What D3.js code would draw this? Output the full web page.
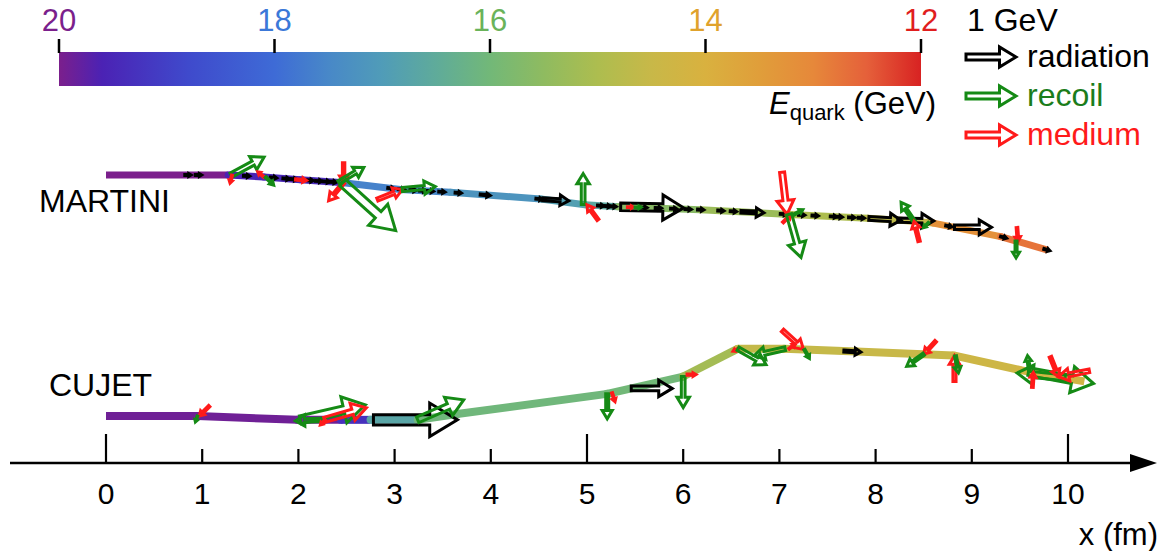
<!DOCTYPE html>
<html><head><meta charset="utf-8">
<script src="https://cdn.jsdelivr.net/npm/d3@7"></script>
<style>body{margin:0;background:#fff}text{font-family:"Liberation Sans",Arial,sans-serif}</style>
</head><body><svg id="c" width="1166" height="551"></svg>
<script>
// ---------- data ----------
const xTicks = [0,1,2,3,4,5,6,7,8,9,10];
const xMajor = [0,5,10];
const cbarTicks = [20,18,16,14,12];
const cbarTickColors = ["#7b1f8c","#3b78d8","#6ab35a","#e0a22c","#e01e1e"];
const cmapE = [20,19.6,18.8,18,17.5,17,16.5,16,15.5,15,14.5,14,13.5,13,12.5,12];
const cmapC = ["#7b1f8c","#4b22b4","#3f4acc","#3e6bd6","#4888c8","#509cb8","#5fab9a","#72b878","#8fbb60","#adbd4f","#c8b848","#d9b13f","#e09e3a","#e6883a","#e5603a","#d82222"];

const martiniX = [0,1.27,1.64,2.02,2.47,3.06,3.58,4.52,4.98,5.32,6.18,7.11,7.92,8.26,8.60,9.30,9.79];
const martiniY = [0,0,-0.02,-0.05,-0.08,-0.15,-0.18,-0.25,-0.31,-0.33,-0.36,-0.41,-0.45,-0.47,-0.50,-0.64,-0.78];
const martiniE = [20,19.6,19.5,19.45,17.6,17.5,17.2,16.9,16.6,15.6,15.3,15.0,14.7,14.6,13.2,12.75];

const cujetX = [0,0.95,1.99,2.44,2.75,3.24,3.65,5.21,6.0,6.57,7.05,7.80,8.81,9.49,10.17];
const cujetY = [0,0,-0.04,-0.04,-0.04,-0.04,0.02,0.23,0.41,0.70,0.70,0.67,0.63,0.48,0.36];
const cujetE = [19.9,19.9,19.9,19.3,16.7,16.05,16.05,16.0,15.15,14.6,14.55,14.5,14.35,14.25];

// arrows: [x (fm), px (GeV), py (GeV), type, ends on path]
const martiniDots = [0.82,0.93,1.43,1.71,1.84,1.92,2.09,2.18,2.26,2.33,2.93,3.04,3.16,3.26,3.34,3.46,3.63,4.47,5.11,5.18,5.24,5.56,5.71,5.87,6.02,6.15,6.36,6.49,7.01,7.2,7.34,7.53,7.59,7.72,7.82,8.73,9.3,9.75];
const martiniDotP = [0.12,0.12,0.12,0.12,0.12,0.12,0.12,0.12,0.12,0.12,0.12,0.12,0.12,0.12,0.12,0.12,0.12,0.12,0.12,0.12,0.12,0.12,0.12,0.12,0.12,0.12,0.12,0.12,0.12,0.12,0.12,0.12,0.12,0.12,0.12,0.12,0.12,0.12];
const martiniArrows = [
 [1.30,0.66,0.36,"c",0],[1.31,-0.04,-0.16,"m",0],[1.64,-0.12,0.1,"m",0],[1.66,0.16,-0.16,"c",0],
 [1.97,0.22,-0.02,"m",0],[2.47,0,-0.4,"m",1],[2.47,-0.3,-0.36,"m",0],[2.42,0.5,0.3,"c",0],
 [2.46,1.06,-0.96,"c",0],[3.08,0.5,0.2,"m",1],[3.08,0.66,0.06,"c",0],[3.89,0.2,-0.02,"r",0],
 [4.54,0.52,-0.03,"r",0],[4.96,0,0.62,"c",0],[5.0,-0.22,0.3,"m",1],[5.35,1.26,-0.02,"r",0],
 [5.42,0.12,0,"m",0],[5.5,0.12,0,"c",0],[6.60,0.46,-0.02,"r",0],[7.08,0.1,-0.84,"m",1],
 [7.12,0.16,0.16,"m",1],[7.15,0.18,0.1,"c",0],[7.10,0.24,-0.86,"c",0],[7.93,0.64,-0.04,"r",0],
 [8.23,0.72,-0.02,"r",0],[8.40,-0.26,0.38,"c",0],[8.40,-0.1,0.4,"m",1],[8.55,-0.1,-0.1,"c",0],
 [8.82,0.74,0,"r",0],[9.48,0.02,-0.28,"m",1],[9.46,0,-0.34,"c",0]
];
const cujetArrows = [
 [0.97,-0.2,-0.2,"m",1],[0.95,-0.04,-0.12,"c",0],[2.26,-0.56,-0.02,"c",0],[2.02,1.3,0.3,"c",0],
 [2.27,0.84,0.24,"m",0],[2.28,-0.1,-0.1,"m",0],[2.78,1.68,0,"r",0],[3.24,0.92,0.4,"c",0],
 [5.21,0,-0.5,"c",0],[5.26,0.06,-0.18,"m",0],[5.46,0.82,0,"r",0],[6.0,0,-0.62,"c",0],
 [6.04,0.18,0,"m",0],[6.57,-0.1,-0.05,"m",0],[6.57,0.56,-0.32,"c",0],[7.06,-0.62,-0.14,"c",0],
 [7.25,0.42,-0.38,"m",1],[7.1,0.12,0.1,"m",0],[7.26,0.1,-0.18,"c",0],[7.67,0.34,-0.02,"r",0],
 [8.5,-0.24,-0.26,"m",1],[8.5,-0.34,-0.24,"c",0],[8.82,0,0.52,"m",1],[8.83,0.06,-0.34,"c",0],
 [9.97,-0.96,0.1,"c",0],[9.59,1.3,-0.24,"c",0],[9.6,-0.04,0.32,"c",0],[9.90,0.16,-0.4,"m",1],
 [9.9,-0.62,-0.12,"m",1],[9.64,0.02,0.3,"m",1]
];
const legendTypes = ["r","c","m"];
const legendLabels = ["radiation","recoil","medium"];
const typeColor = {r:"#000000", c:"#158a15", m:"#ff1a1a"};
const legendTextColor = {r:"#000000", c:"#1b7d1b", m:"#ff1a1a"};

// ---------- drawing ----------
const svg = d3.select("#c");
const x = d3.scaleLinear().domain([0,10]).range([106,1068]);
const k = (x(1)-x(0));
const yM = d3.scaleLinear().domain([0,1]).range([175,175-k]);
const yC = d3.scaleLinear().domain([0,1]).range([416,416-k]);
const gev = d3.scaleLinear().domain([0,1]).range([0,50]);
const cmap = d3.scaleLinear().domain(cmapE).range(cmapC).interpolate(d3.interpolateRgb);
const cb = d3.scaleLinear().domain([20,12]).range([59,921]);

// colorbar
const defs = svg.append("defs");
const grad = defs.append("linearGradient").attr("id","cg").attr("x1","0%").attr("x2","100%");
cmapE.forEach((e,i)=>grad.append("stop").attr("offset",((cb(e)-59)/(921-59)*100)+"%").attr("stop-color",cmapC[i]));
svg.append("rect").attr("x",cb(20)).attr("y",52).attr("width",cb(12)-cb(20)).attr("height",34).attr("fill","url(#cg)");
cbarTicks.forEach((t,i)=>{
  svg.append("line").attr("x1",cb(t)).attr("x2",cb(t)).attr("y1",39).attr("y2",53).attr("stroke","#000").attr("stroke-width",2.5);
  svg.append("text").attr("x",cb(t)).attr("y",31).attr("text-anchor","middle").attr("font-size",31).attr("fill",cbarTickColors[i]).text(t);
});
const el = svg.append("text").attr("x",936).attr("y",114).attr("text-anchor","end").attr("font-size",31);
el.append("tspan").attr("font-style","italic").text("E");
el.append("tspan").attr("font-size",22).attr("dy",6).text("quark");
el.append("tspan").attr("dy",-6).text(" (GeV)");

// arrow shape
function arrowD(x0,y0,x1,y1){
  const L = Math.hypot(x1-x0,y1-y0); if(L<0.5) return "";
  const w=0.06*L, h=0.2*L, hl=0.33*L, c=(x1-x0)/L, s=(y1-y0)/L;
  const pts=[[0,-w],[L-hl,-w],[L-hl,-h],[L,0],[L-hl,h],[L-hl,w],[0,w]];
  return "M"+pts.map(p=>[x0+p[0]*c-p[1]*s, y0+p[0]*s+p[1]*c].map(v=>v.toFixed(2)).join(",")).join("L")+"Z";
}
function drawArrow(g,x0,y0,x1,y1,t,sw){
  g.append("path").attr("d",arrowD(x0,y0,x1,y1)).attr("fill","none").attr("stroke",typeColor[t])
   .attr("stroke-width",sw||3).attr("stroke-linejoin","miter");
}

// legend
svg.append("text").attr("x",967).attr("y",31).attr("font-size",32).text("1 GeV");
legendTypes.forEach((t,i)=>{
  const yy = 57+i*39;
  drawArrow(svg,966,yy,966+gev(1),yy,t,3);
  svg.append("text").attr("x",1027).attr("y",yy+10).attr("font-size",32).attr("fill",legendTextColor[t]).text(legendLabels[i]);
});

// trajectories
function interpY(xs,ys,xv){
  const i = Math.max(0,Math.min(xs.length-2,d3.bisectRight(xs,xv)-1));
  const t=(xv-xs[i])/(xs[i+1]-xs[i]); return ys[i]+t*(ys[i+1]-ys[i]);
}
function drawTraj(xs,ys,es,yS,wid,arrows,dots,dotP){
  const g = svg.append("g");
  for(let i=0;i<xs.length-1;i++){
    g.append("line").attr("x1",x(xs[i])).attr("y1",yS(ys[i])).attr("x2",x(xs[i+1])).attr("y2",yS(ys[i+1]))
     .attr("stroke",cmap(es[i])).attr("stroke-width",wid).attr("stroke-linecap","butt");
    if(i>0) g.append("circle").attr("cx",x(xs[i])).attr("cy",yS(ys[i])).attr("r",wid/2).attr("fill",cmap(es[i]));
  }
  const ga = svg.append("g");
  if(dots) dots.forEach((d,i)=>{
    const x0=x(d), y0=yS(interpY(xs,ys,d));
    const slope=(yS(interpY(xs,ys,d+0.1))-y0)/(x(d+0.1)-x0);
    const L=gev(dotP[i]); const dx=L/Math.hypot(1,slope);
    drawArrow(ga,x0,y0,x0+dx,y0+dx*slope,"r",3.2);
  });
  arrows.forEach(a=>{
    const px=x(a[0]), py=yS(interpY(xs,ys,a[0]));
    const dx=gev(a[1]), dy=-gev(a[2]);
    if(a[4]) drawArrow(ga,px-dx,py-dy,px,py,a[3]);
    else drawArrow(ga,px,py,px+dx,py+dy,a[3]);
  });
}
drawTraj(martiniX,martiniY,martiniE,yM,7,martiniArrows,martiniDots,martiniDotP);
drawTraj(cujetX,cujetY,cujetE,yC,8,cujetArrows,null,null);

svg.append("text").attr("x",39).attr("y",212).attr("font-size",32).text("MARTINI");
svg.append("text").attr("x",49).attr("y",396).attr("font-size",32).text("CUJET");

// x axis
const ay = 463;
svg.append("line").attr("x1",10).attr("x2",1136).attr("y1",ay).attr("y2",ay).attr("stroke","#000").attr("stroke-width",2.6);
svg.append("path").attr("d",`M1130,${ay-9}L1157,${ay}L1130,${ay+9}Z`).attr("fill","#000");
xTicks.forEach(t=>{
  const major = xMajor.includes(t);
  svg.append("line").attr("x1",x(t)).attr("x2",x(t)).attr("y1",major?434:449).attr("y2",ay).attr("stroke","#000").attr("stroke-width",2.2);
  svg.append("text").attr("x",x(t)).attr("y",504).attr("text-anchor","middle").attr("font-size",30).text(t);
});
svg.append("text").attr("x",1158).attr("y",545).attr("text-anchor","end").attr("font-size",31).text("x (fm)");
</script></body></html>
